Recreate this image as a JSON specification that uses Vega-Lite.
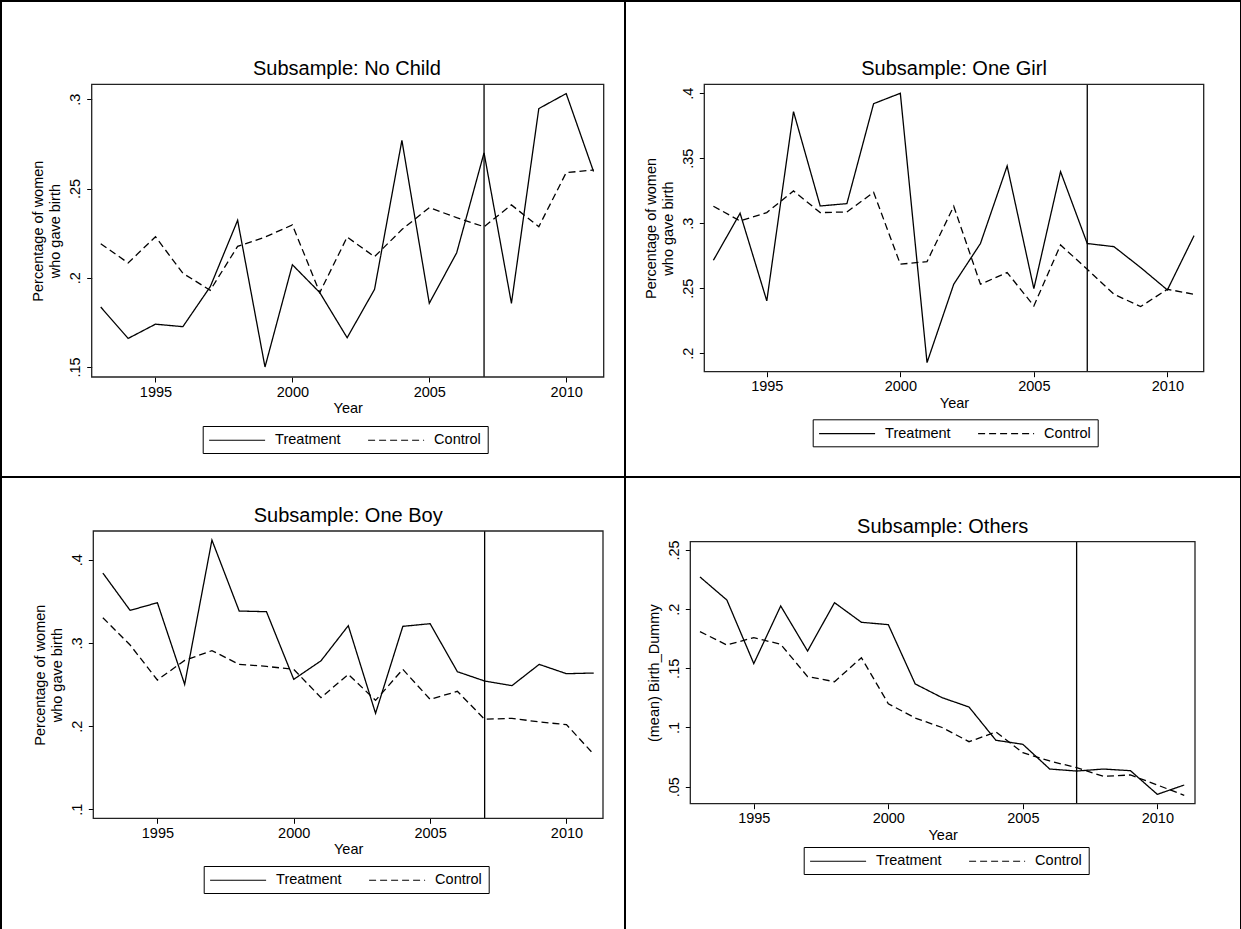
{
  "$schema": "https://vega.github.io/schema/vega-lite/v6.json",
  "padding": 0,
  "background": "white",
  "spacing": 0,
  "bounds": "flush",
  "columns": 2,
  "resolve": {"scale": {"strokeDash": "independent"}, "legend": {"strokeDash": "independent"}},
  "datasets": {
    "d": [
      {"p": "No Child", "year": 1993, "Treatment": 0.1836, "Control": 0.2191},
      {"p": "No Child", "year": 1994, "Treatment": 0.166, "Control": 0.2083},
      {"p": "No Child", "year": 1995, "Treatment": 0.174, "Control": 0.223},
      {"p": "No Child", "year": 1996, "Treatment": 0.1726, "Control": 0.2025},
      {"p": "No Child", "year": 1997, "Treatment": 0.195, "Control": 0.193},
      {"p": "No Child", "year": 1998, "Treatment": 0.2322, "Control": 0.2176},
      {"p": "No Child", "year": 1999, "Treatment": 0.15, "Control": 0.2228},
      {"p": "No Child", "year": 2000, "Treatment": 0.2073, "Control": 0.2296},
      {"p": "No Child", "year": 2001, "Treatment": 0.1917, "Control": 0.1917},
      {"p": "No Child", "year": 2002, "Treatment": 0.1664, "Control": 0.2228},
      {"p": "No Child", "year": 2003, "Treatment": 0.1935, "Control": 0.2118},
      {"p": "No Child", "year": 2004, "Treatment": 0.277, "Control": 0.227},
      {"p": "No Child", "year": 2005, "Treatment": 0.1857, "Control": 0.2393},
      {"p": "No Child", "year": 2006, "Treatment": 0.214, "Control": 0.2337},
      {"p": "No Child", "year": 2007, "Treatment": 0.27, "Control": 0.2286},
      {"p": "No Child", "year": 2008, "Treatment": 0.1857, "Control": 0.2408},
      {"p": "No Child", "year": 2009, "Treatment": 0.2948, "Control": 0.2286},
      {"p": "No Child", "year": 2010, "Treatment": 0.3032, "Control": 0.2589},
      {"p": "No Child", "year": 2011, "Treatment": 0.2595, "Control": 0.2604},
      {"p": "One Girl", "year": 1993, "Treatment": 0.2715, "Control": 0.3131},
      {"p": "One Girl", "year": 1994, "Treatment": 0.3077, "Control": 0.3018},
      {"p": "One Girl", "year": 1995, "Treatment": 0.2403, "Control": 0.3082},
      {"p": "One Girl", "year": 1996, "Treatment": 0.3859, "Control": 0.3249},
      {"p": "One Girl", "year": 1997, "Treatment": 0.3133, "Control": 0.3082},
      {"p": "One Girl", "year": 1998, "Treatment": 0.3151, "Control": 0.3087},
      {"p": "One Girl", "year": 1999, "Treatment": 0.392, "Control": 0.3238},
      {"p": "One Girl", "year": 2000, "Treatment": 0.4, "Control": 0.2685},
      {"p": "One Girl", "year": 2001, "Treatment": 0.1928, "Control": 0.2705},
      {"p": "One Girl", "year": 2002, "Treatment": 0.2531, "Control": 0.3131},
      {"p": "One Girl", "year": 2003, "Treatment": 0.2844, "Control": 0.2531},
      {"p": "One Girl", "year": 2004, "Treatment": 0.3441, "Control": 0.2621},
      {"p": "One Girl", "year": 2005, "Treatment": 0.2497, "Control": 0.2364},
      {"p": "One Girl", "year": 2006, "Treatment": 0.3397, "Control": 0.2833},
      {"p": "One Girl", "year": 2007, "Treatment": 0.2844, "Control": 0.2646},
      {"p": "One Girl", "year": 2008, "Treatment": 0.282, "Control": 0.2454},
      {"p": "One Girl", "year": 2009, "Treatment": 0.2659, "Control": 0.2359},
      {"p": "One Girl", "year": 2010, "Treatment": 0.2487, "Control": 0.2492},
      {"p": "One Girl", "year": 2011, "Treatment": 0.2905, "Control": 0.2454},
      {"p": "One Boy", "year": 1993, "Treatment": 0.384, "Control": 0.3303},
      {"p": "One Boy", "year": 1994, "Treatment": 0.3391, "Control": 0.2975},
      {"p": "One Boy", "year": 1995, "Treatment": 0.3483, "Control": 0.2554},
      {"p": "One Boy", "year": 1996, "Treatment": 0.2502, "Control": 0.279},
      {"p": "One Boy", "year": 1997, "Treatment": 0.4236, "Control": 0.2907},
      {"p": "One Boy", "year": 1998, "Treatment": 0.3383, "Control": 0.2742},
      {"p": "One Boy", "year": 1999, "Treatment": 0.3375, "Control": 0.2718},
      {"p": "One Boy", "year": 2000, "Treatment": 0.2562, "Control": 0.2682},
      {"p": "One Boy", "year": 2001, "Treatment": 0.2785, "Control": 0.2342},
      {"p": "One Boy", "year": 2002, "Treatment": 0.3207, "Control": 0.2622},
      {"p": "One Boy", "year": 2003, "Treatment": 0.2154, "Control": 0.231},
      {"p": "One Boy", "year": 2004, "Treatment": 0.3199, "Control": 0.2682},
      {"p": "One Boy", "year": 2005, "Treatment": 0.3231, "Control": 0.2322},
      {"p": "One Boy", "year": 2006, "Treatment": 0.2654, "Control": 0.2418},
      {"p": "One Boy", "year": 2007, "Treatment": 0.2542, "Control": 0.2082},
      {"p": "One Boy", "year": 2008, "Treatment": 0.2486, "Control": 0.2094},
      {"p": "One Boy", "year": 2009, "Treatment": 0.2742, "Control": 0.205},
      {"p": "One Boy", "year": 2010, "Treatment": 0.263, "Control": 0.2018},
      {"p": "One Boy", "year": 2011, "Treatment": 0.2638, "Control": 0.1661},
      {"p": "Others", "year": 1993, "Treatment": 0.2272, "Control": 0.181},
      {"p": "Others", "year": 1994, "Treatment": 0.2077, "Control": 0.1697},
      {"p": "Others", "year": 1995, "Treatment": 0.154, "Control": 0.1759},
      {"p": "Others", "year": 1996, "Treatment": 0.2027, "Control": 0.1703},
      {"p": "Others", "year": 1997, "Treatment": 0.1646, "Control": 0.143},
      {"p": "Others", "year": 1998, "Treatment": 0.2055, "Control": 0.1387},
      {"p": "Others", "year": 1999, "Treatment": 0.1889, "Control": 0.159},
      {"p": "Others", "year": 2000, "Treatment": 0.1869, "Control": 0.1201},
      {"p": "Others", "year": 2001, "Treatment": 0.1368, "Control": 0.108},
      {"p": "Others", "year": 2002, "Treatment": 0.1252, "Control": 0.1},
      {"p": "Others", "year": 2003, "Treatment": 0.1173, "Control": 0.088},
      {"p": "Others", "year": 2004, "Treatment": 0.0892, "Control": 0.0962},
      {"p": "Others", "year": 2005, "Treatment": 0.0858, "Control": 0.0787},
      {"p": "Others", "year": 2006, "Treatment": 0.0649, "Control": 0.0717},
      {"p": "Others", "year": 2007, "Treatment": 0.0632, "Control": 0.066},
      {"p": "Others", "year": 2008, "Treatment": 0.0649, "Control": 0.0587},
      {"p": "Others", "year": 2009, "Treatment": 0.0635, "Control": 0.0599},
      {"p": "Others", "year": 2010, "Treatment": 0.0435, "Control": 0.0514},
      {"p": "Others", "year": 2011, "Treatment": 0.0514, "Control": 0.0427}
    ]
  },
  "concat": [
    {
      "width": 624, "height": 476,
      "title": {"text": "Subsample: No Child", "dx": 33.9, "offset": -78},
      "layer": [
        {
          "data": {"name": "d"},
          "transform": [{"filter": "datum.p === 'No Child'"}, {"fold": ["Treatment", "Control"], "as": ["group", "value"]}],
          "mark": {"type": "line", "color": "black", "strokeWidth": 1.3},
          "encoding": {
            "x": {"field": "year", "type": "quantitative", "scale": {"domain": [1992.67, 2011.37], "range": [90.7, 602.7], "nice": false, "zero": false}, "axis": {"title": "Year", "values": [1995, 2000, 2005, 2010], "format": "d", "offset": -100}},
            "y": {"field": "value", "type": "quantitative", "scale": {"domain": [0.1444, 0.3084], "range": [376, 83.3], "nice": false, "zero": false}, "axis": {"title": ["Percentage of women", "who gave birth"], "values": [0.15, 0.2, 0.25, 0.3], "labelExpr": "replace(format(datum.value,'~g'),'0.','.')", "offset": -90.7}},
            "strokeDash": {"field": "group", "type": "nominal", "scale": {"domain": ["Treatment", "Control"], "range": [[1, 0], [7, 4]]}, "legend": {"title": null, "legendX": 201.7, "legendY": 425}}
          }
        },
        {
          "data": {"values": [{}]},
          "mark": {"type": "rule", "color": "black", "strokeWidth": 1.3},
          "encoding": {"x": {"datum": 2007}, "y": {"datum": 0.1444}, "y2": {"datum": 0.3084}}
        },
        {
          "data": {"values": [{}]},
          "mark": {"type": "rect", "fill": "transparent", "stroke": "#222", "strokeWidth": 1.3},
          "encoding": {"x": {"datum": 1992.67}, "x2": {"datum": 2011.37}, "y": {"datum": 0.1444}, "y2": {"datum": 0.3084}}
        }
      ]
    },
    {
      "width": 616, "height": 476,
      "title": {"text": "Subsample: One Girl", "dx": 21, "offset": -78},
      "layer": [
        {
          "data": {"name": "d"},
          "transform": [{"filter": "datum.p === 'One Girl'"}, {"fold": ["Treatment", "Control"], "as": ["group", "value"]}],
          "mark": {"type": "line", "color": "black", "strokeWidth": 1.3},
          "encoding": {
            "x": {"field": "year", "type": "quantitative", "scale": {"domain": [1992.66, 2011.36], "range": [79.3, 578.7], "nice": false, "zero": false}, "axis": {"title": "Year", "values": [1995, 2000, 2005, 2010], "format": "d", "offset": -105.3}},
            "y": {"field": "value", "type": "quantitative", "scale": {"domain": [0.1858, 0.4069], "range": [370.7, 83.3], "nice": false, "zero": false}, "axis": {"title": ["Percentage of women", "who gave birth"], "values": [0.2, 0.25, 0.3, 0.35, 0.4], "labelExpr": "replace(format(datum.value,'~g'),'0.','.')", "offset": -79.3}},
            "strokeDash": {"field": "group", "type": "nominal", "scale": {"domain": ["Treatment", "Control"], "range": [[1, 0], [7, 4]]}, "legend": {"title": null, "legendX": 187.7, "legendY": 418.3}}
          }
        },
        {
          "data": {"values": [{}]},
          "mark": {"type": "rule", "color": "black", "strokeWidth": 1.3},
          "encoding": {"x": {"datum": 2007}, "y": {"datum": 0.1858}, "y2": {"datum": 0.4069}}
        },
        {
          "data": {"values": [{}]},
          "mark": {"type": "rect", "fill": "transparent", "stroke": "#222", "strokeWidth": 1.3},
          "encoding": {"x": {"datum": 1992.66}, "x2": {"datum": 2011.36}, "y": {"datum": 0.1858}, "y2": {"datum": 0.4069}}
        }
      ]
    },
    {
      "width": 624, "height": 460,
      "title": {"text": "Subsample: One Boy", "dx": 35.2, "offset": -49.3},
      "layer": [
        {
          "data": {"name": "d"},
          "transform": [{"filter": "datum.p === 'One Boy'"}, {"fold": ["Treatment", "Control"], "as": ["group", "value"]}],
          "mark": {"type": "line", "color": "black", "strokeWidth": 1.3},
          "encoding": {
            "x": {"field": "year", "type": "quantitative", "scale": {"domain": [1992.65, 2011.34], "range": [92.3, 602], "nice": false, "zero": false}, "axis": {"title": "Year", "values": [1995, 2000, 2005, 2010], "format": "d", "offset": -118.7}},
            "y": {"field": "value", "type": "quantitative", "scale": {"domain": [0.0892, 0.4345], "range": [341.3, 54], "nice": false, "zero": false}, "axis": {"title": ["Percentage of women", "who gave birth"], "values": [0.1, 0.2, 0.3, 0.4], "labelExpr": "replace(format(datum.value,'~g'),'0.','.')", "offset": -92.3}},
            "strokeDash": {"field": "group", "type": "nominal", "scale": {"domain": ["Treatment", "Control"], "range": [[1, 0], [7, 4]]}, "legend": {"title": null, "legendX": 202.7, "legendY": 389}}
          }
        },
        {
          "data": {"values": [{}]},
          "mark": {"type": "rule", "color": "black", "strokeWidth": 1.3},
          "encoding": {"x": {"datum": 2007}, "y": {"datum": 0.0892}, "y2": {"datum": 0.4345}}
        },
        {
          "data": {"values": [{}]},
          "mark": {"type": "rect", "fill": "transparent", "stroke": "#222", "strokeWidth": 1.3},
          "encoding": {"x": {"datum": 1992.65}, "x2": {"datum": 2011.34}, "y": {"datum": 0.0892}, "y2": {"datum": 0.4345}}
        }
      ]
    },
    {
      "width": 616, "height": 460,
      "title": {"text": "Subsample: Others", "dx": 9.7, "offset": -60.3},
      "layer": [
        {
          "data": {"name": "d"},
          "transform": [{"filter": "datum.p === 'Others'"}, {"fold": ["Treatment", "Control"], "as": ["group", "value"]}],
          "mark": {"type": "line", "color": "black", "strokeWidth": 1.3},
          "encoding": {
            "x": {"field": "year", "type": "quantitative", "scale": {"domain": [1992.64, 2011.4], "range": [65.3, 570], "nice": false, "zero": false}, "axis": {"title": "Year", "values": [1995, 2000, 2005, 2010], "format": "d", "offset": -133.3}},
            "y": {"field": "value", "type": "quantitative", "scale": {"domain": [0.0356, 0.257], "range": [326.7, 64.7], "nice": false, "zero": false}, "axis": {"title": "(mean) Birth_Dummy", "values": [0.05, 0.1, 0.15, 0.2, 0.25], "labelExpr": "replace(format(datum.value,'~g'),'0.','.')", "offset": -65.3}},
            "strokeDash": {"field": "group", "type": "nominal", "scale": {"domain": ["Treatment", "Control"], "range": [[1, 0], [7, 4]]}, "legend": {"title": null, "legendX": 178.7, "legendY": 370}}
          }
        },
        {
          "data": {"values": [{}]},
          "mark": {"type": "rule", "color": "black", "strokeWidth": 1.3},
          "encoding": {"x": {"datum": 2007}, "y": {"datum": 0.0356}, "y2": {"datum": 0.257}}
        },
        {
          "data": {"values": [{}]},
          "mark": {"type": "rect", "fill": "transparent", "stroke": "#222", "strokeWidth": 1.3},
          "encoding": {"x": {"datum": 1992.64}, "x2": {"datum": 2011.4}, "y": {"datum": 0.0356}, "y2": {"datum": 0.257}}
        }
      ]
    }
  ],
  "config": {
    "font": "Liberation Sans",
    "view": {"stroke": "black", "strokeWidth": 2},
    "axis": {
      "labelFont": "Liberation Sans", "labelFontSize": 14.5, "labelColor": "black",
      "titleFont": "Liberation Sans", "titleFontSize": 14.5, "titleFontWeight": "normal", "titleColor": "black",
      "tickColor": "black", "tickSize": 5, "tickWidth": 1, "grid": false, "domain": false, "labelFlush": false
    },
    "axisY": {"labelAngle": 270, "labelAlign": "center", "labelBaseline": "bottom", "labelPadding": 4, "titlePadding": 5, "titleLineHeight": 17},
    "axisX": {"labelPadding": 3, "titlePadding": 3},
    "title": {"font": "Liberation Sans", "fontSize": 20, "fontWeight": "normal", "color": "black", "anchor": "middle", "frame": "group", "baseline": "alphabetic"},
    "legend": {
      "orient": "none", "direction": "horizontal", "strokeColor": "black", "fillColor": "white", "padding": 6, "cornerRadius": 0,
      "symbolType": "M-4,0H4", "symbolSize": 196, "symbolStrokeWidth": 1.2, "symbolStrokeColor": "black", "symbolOffset": 20.4,
      "labelFont": "Liberation Sans", "labelFontSize": 14.5, "labelColor": "black", "labelOffset": 30, "columnPadding": 25
    }
  }
}
